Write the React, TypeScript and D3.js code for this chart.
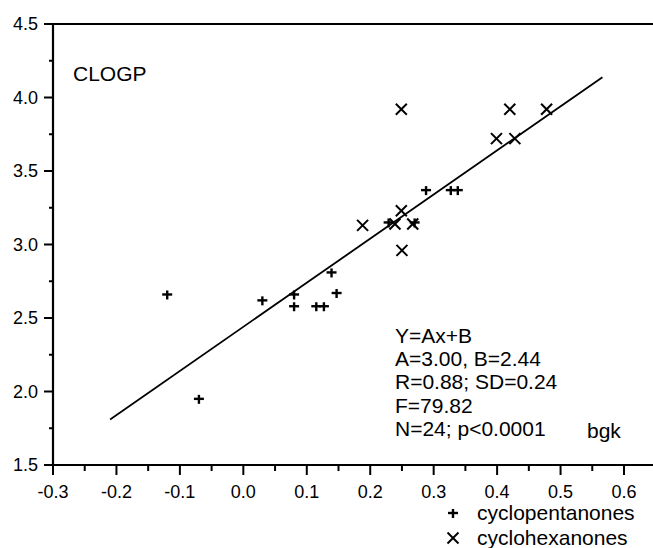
import React from "react";
import * as d3 from "d3";

const pentX = [-0.12, -0.07, 0.03, 0.08, 0.08, 0.115, 0.127, 0.139, 0.147, 0.229, 0.27, 0.288, 0.327, 0.338];
const pentY = [2.66, 1.95, 2.62, 2.66, 2.58, 2.58, 2.58, 2.81, 2.67, 3.15, 3.15, 3.37, 3.37, 3.37];
const hexX = [0.188, 0.249, 0.42, 0.478, 0.399, 0.428, 0.249, 0.239, 0.267, 0.25];
const hexY = [3.13, 3.92, 3.92, 3.92, 3.72, 3.72, 3.23, 3.14, 3.14, 2.96];
const fitA = 3.0;
const fitB = 2.44;
const fitRange = [-0.21, 0.566];
const xTicks = [-0.3, -0.2, -0.1, 0.0, 0.1, 0.2, 0.3, 0.4, 0.5, 0.6];
const yTicks = [1.5, 2.0, 2.5, 3.0, 3.5, 4.0, 4.5];
const statLines = ["Y=Ax+B", "A=3.00, B=2.44", "R=0.88; SD=0.24", "F=79.82", "N=24; p<0.0001"];
const legendLabels = ["cyclopentanones", "cyclohexanones"];

const W = 653;
const H = 548;
const FONT = "'Liberation Sans', Arial, sans-serif";

export default function App() {
  const x = d3.scaleLinear().domain([-0.3, 0.6]).range([53, 624]);
  const y = d3.scaleLinear().domain([1.5, 4.5]).range([465, 24]);
  const xMinor = d3.range(-0.25, 0.66, 0.1);
  const yMinor = d3.range(1.75, 4.5, 0.5);
  const line = d3.line<number>().x((v) => x(v)).y((v) => y(fitA * v + fitB));

  const plus = (cx: number, cy: number, k: string) => (
    <g key={k} stroke="#000" strokeWidth={2.4}>
      <line x1={cx - 5} x2={cx + 5} y1={cy} y2={cy} />
      <line x1={cx} x2={cx} y1={cy - 4} y2={cy + 5} />
    </g>
  );
  const cross = (cx: number, cy: number, k: string) => (
    <g key={k} stroke="#000" strokeWidth={2}>
      <line x1={cx - 5.5} x2={cx + 5.5} y1={cy - 5.5} y2={cy + 5.5} />
      <line x1={cx - 5.5} x2={cx + 5.5} y1={cy + 5.5} y2={cy - 5.5} />
    </g>
  );

  return (
    <svg width={W} height={H} style={{ position: "absolute", left: 0, top: 0 }} fontFamily={FONT}>
      <rect width={W} height={H} fill="#fff" />
      <line x1={53} x2={W} y1={24} y2={24} stroke="#000" strokeWidth={2.2} />
      <line x1={53} x2={W} y1={465} y2={465} stroke="#000" strokeWidth={2.2} />
      <line x1={53} x2={53} y1={23} y2={466} stroke="#000" strokeWidth={2.2} />
      {yTicks.map((t) => (
        <g key={"yt" + t}>
          <line x1={44} x2={53} y1={y(t)} y2={y(t)} stroke="#000" strokeWidth={2} />
          <text x={38} y={y(t) + 6} textAnchor="end" fontSize={18}>{t.toFixed(1)}</text>
        </g>
      ))}
      {yMinor.map((t) => (
        <line key={"ym" + t} x1={49} x2={53} y1={y(t)} y2={y(t)} stroke="#000" strokeWidth={2} />
      ))}
      {xTicks.map((t) => (
        <g key={"xt" + t}>
          <line x1={x(t)} x2={x(t)} y1={465} y2={475} stroke="#000" strokeWidth={2} />
          <text x={x(t)} y={498} textAnchor="middle" fontSize={18}>{t.toFixed(1)}</text>
        </g>
      ))}
      {xMinor.map((t) => (
        <line key={"xm" + t.toFixed(2)} x1={x(t)} x2={x(t)} y1={465} y2={471} stroke="#000" strokeWidth={2} />
      ))}
      <path d={line(fitRange) || ""} fill="none" stroke="#000" strokeWidth={1.8} />
      {pentX.map((v, i) => plus(x(v), y(pentY[i]), "p" + i))}
      {hexX.map((v, i) => cross(x(v), y(hexY[i]), "h" + i))}
      <text x={73} y={81} fontSize={21}>CLOGP</text>
      {statLines.map((s, i) => (
        <text key={s} x={395} y={343 + i * 23.2} fontSize={21}>{s}</text>
      ))}
      <text x={587} y={438} fontSize={21}>bgk</text>
      {plus(453, 513, "lp")}
      <text x={477} y={520} fontSize={21}>{legendLabels[0]}</text>
      {cross(453, 538, "lh")}
      <text x={477} y={545} fontSize={21}>{legendLabels[1]}</text>
    </svg>
  );
}
